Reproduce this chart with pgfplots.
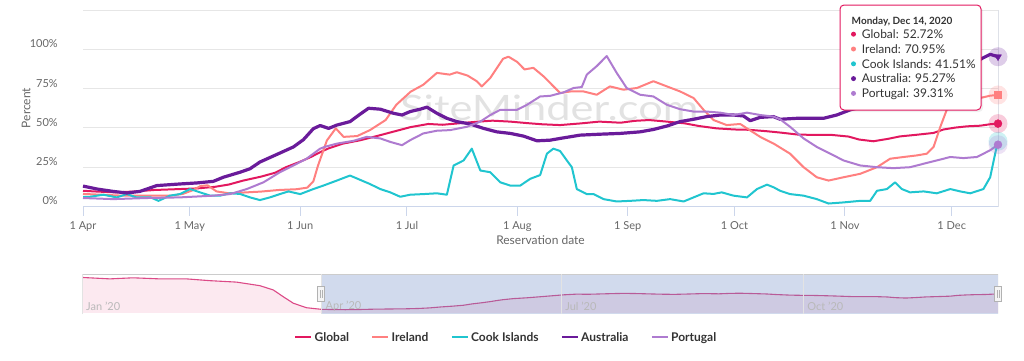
\documentclass[border=0pt]{standalone}
\usepackage{fontspec}
\setmainfont{Lato}
\usepackage{pgfplots}
\pgfplotsset{compat=1.18}
\usepackage{pgfplotstable}
\definecolor{globalc}{HTML}{E2185F}
\definecolor{irelandc}{HTML}{FF8080}
\definecolor{cookc}{HTML}{20C5CF}
\definecolor{ausc}{HTML}{6A1B9A}
\definecolor{portc}{HTML}{AE7BD0}
\definecolor{gridc}{HTML}{E6E6E6}
\definecolor{axisc}{HTML}{CCD6EB}
\definecolor{labc}{HTML}{666666}
\definecolor{txtc}{HTML}{333333}
\definecolor{wmc}{HTML}{E2E2E2}
\definecolor{navpink}{HTML}{FCE9F0}
\definecolor{navsel}{RGB}{102,133,194}
\definecolor{navline}{HTML}{DC4A87}

\pgfplotstableread{
d v
0 10
4 9.5
9 9
14 9.5
20 10.5
26 11
32 11.5
37 12.5
41 14
45 16.5
50 19
54 21.5
57 25
61 28.5
64 31.5
67 35
69 37
73 40
78 42.2
82.5 44.8
87 47.5
92 50.5
97 52.5
101 52
106 53
111 54
115 54.6
120 54
125 53
129 52.3
134 51.8
140 52.9
145 54
151 53.3
155 54.5
159 55
164 54
169 52.9
173 51.2
178 49.7
183 49
187 48.8
192 47.9
196 47
201 45.7
205 45.6
210 45.6
215 44.5
218 42.6
222 41.5
226 43
229.5 44.6
234 45.6
238.9 46.8
241.7 49
245 50.2
248.3 51
252 51.4
255 52.4
257 52.72
}\globaltab

\pgfplotstableread{
d v
0 8
5 7.5
10 7
15 7
20 7
25 7
28 8
31 10.5
33 13
35 13.5
37.5 9.6
41 8.4
46 9
50 9.5
55 10.5
60 11
63 12
64.7 16
66 26
68.5 42
71 49.7
73.2 44.3
77 44.8
80.6 48.6
85 55
88 64.7
92 73
95.6 77.5
99.4 85
103 83.9
105 85.4
108 83.3
110.6 79.7
112 76.4
114.4 81.8
118 94
119.5 95.3
122 91.9
124 87.2
126.5 88.2
129.3 82.9
131.2 78.6
134 72.2
137 73.2
140.6 73.2
144.3 71.1
148 76.4
151.8 74.3
155.6 75.4
160.2 79.7
164 76.4
167.7 73.2
171.5 69
174.3 61.5
177.1 55
180.8 51.8
184.6 52.5
186.5 49.7
190.2 44.3
194 40
198.6 33.6
202.4 25
206.1 18.6
209.4 16.5
213.6 18.6
218.3 20.8
223 25
226.7 30.4
230.5 31.5
234.2 32.5
237 33.6
238.9 37.9
240.8 50.7
242.6 61.5
245 65
248 67
251 68.5
254.8 70.5
257 70.95
}\irelandtab

\pgfplotstableread{
d v
0 6.2
2 6.2
5.7 7.5
9.5 5.8
12.3 7.9
15 5.8
19 5.8
21.2 3.6
24.4 6.9
27.2 7.9
30.1 11.1
32.9 9
35.7 6.9
38.5 6.9
41.3 8.4
44.1 8
46.9 5.8
49.7 4.1
52.5 5.8
55.3 7.9
57.7 9.6
61 7.9
64.7 11.1
67.5 13.3
71.3 16.5
75 19.7
77.9 16.9
80.6 14.3
83.5 11.1
86.3 9
89.1 6.2
91.9 7.5
95.6 7.9
99.4 8.4
102.2 7.5
104.1 26.1
106.9 29.3
109.2 36.8
111.6 22.9
114.4 21.8
117.2 15.4
120 13.3
122.8 13.3
125.6 17.6
128.4 20
130.3 33.6
132.1 36.8
134 35.3
135.9 29.3
137.3 25
138.7 11.1
141.5 7.9
143.4 7.9
146.2 4.7
149.9 3.2
153.7 3.6
157.4 4.1
161.2 3.6
164.9 4.7
168.7 3.2
171.5 5.8
174.3 8.4
177.1 8
179.4 9
182.7 6.9
186.5 5.8
189.3 11.1
192.1 13.9
194 12.2
195.8 10
198.6 7.9
202.4 6.9
206.1 4.7
209.4 1.9
213.6 2.6
218.3 3.6
221.1 3.6
223 10
225.8 11.1
228.1 15.4
230 11.1
232.3 9
236.1 9.6
239.8 8.4
243.6 11.1
246.4 9.6
249.2 8.4
252.9 11.1
254.8 18.6
256.2 33.6
257 41.51
}\cooktab

\pgfplotstableread{
d v
0 13
4 11.1
8.5 9.6
12.3 8.6
16 9.6
20.7 13.3
27 14.3
32 15
36.6 16
39.4 18.6
44.1 21.8
46.9 24
49.7 28.3
55.3 34
59.1 37.9
61.9 42.5
64.7 49.5
66.6 51.5
69 49.7
71.3 51.8
75 54
77.5 58.2
80.2 62.5
83.5 61.9
87.2 59.3
89.6 58.2
91.9 60.4
94.7 61.9
96.6 63.2
99.4 59.3
102.2 56.1
105 54
108.7 52.5
112.5 49.7
116.2 47.5
120 46.5
123.7 44.8
127.5 41.8
131.2 42.2
134 43.3
139.6 45.4
145.3 46
150.9 46.5
156.5 47.5
160.2 49
164 51.2
167.7 54
171.5 55.5
175.2 57.2
179 58.2
182.7 58.2
185.5 57.6
187.4 54.6
190.2 56.7
193.9 57.2
195.8 55.5
200.5 56.1
204.2 56.1
208 56.1
211.7 58.2
215.5 61.5
217.3 62.5
222 64
230 70
238 77
245 86
250 91.5
252 93.6
254.8 96.8
257 95.27
}\austab

\pgfplotstableread{
d v
0 5.4
8.5 4.7
18 5.4
27.2 5.8
36.6 6.9
41.3 7.9
46 11.1
50.7 15.4
55.3 21.8
59.1 26.1
62.8 30.4
66.6 36.8
68 38
71.3 40
76 41.8
79.7 44.3
83.5 43.3
86.3 41.1
89.6 39
91.9 42.2
95.6 46.5
99.4 48.2
103.1 48.6
107.8 50.7
111.6 54
114.4 58.2
117.2 61.5
121.9 61.5
124.7 64.7
128.4 70
131.2 70.4
135 72.6
137.8 75.4
140.1 76
141.5 83.9
144.3 89.3
147.1 95.7
149.9 85
152.7 75.4
156.5 71.1
160.2 70
164 64.7
167.7 61.9
171.5 60.4
175.2 60.4
179 59.7
182.7 58.2
186.5 59.7
190.2 58.2
193.9 57.2
195.8 55.5
198.6 50.7
202.4 43.3
206.1 37.9
209.9 33.6
213.6 29.3
218.3 26.1
223 25
227.6 24.4
232.3 25
236.1 27.2
239.8 29.3
243.6 31.5
247.3 30.8
251.1 31.5
254.8 35.8
257 39.31
}\porttab

\pgfplotstableread{
d v
-91 99
-80.4 95
-71.6 98
-61.5 95
-51.3 95
-42.4 90
-32.3 86
-23.4 76
-18.3 64
-14.5 45
-10.7 27
-5.7 14.5
0 10
}\navjan

\begin{document}
\begin{tikzpicture}[x=1pt,y=1pt]
\useasboundingbox (0,0) rectangle (1024,360);
% watermark
\node[anchor=base west, text=wmc, inner sep=0pt] at (400,240) {\scalebox{1.24}[1]{\fontsize{35}{35}\selectfont SiteMinder.com}};

\begin{axis}[
  at={(83pt,153.5pt)}, anchor=south west,
  scale only axis, width=915pt, height=196.5pt,
  xmin=0, xmax=257, ymin=0, ymax=125,
  clip=false,
  axis line style={draw=none},
  xtick={0,30,61,91,122,153,183,214,244},
  xticklabels={1 Apr,1 May,1 Jun,1 Jul,1 Aug,1 Sep,1 Oct,1 Nov,1 Dec},
  ytick={0,25,50,75,100,125},
  yticklabels={0\%,25\%,50\%,75\%,100\%,{}},
  xtick pos=bottom, ytick pos=left,
  tick align=outside, major tick length=9pt,
  xtick style={draw=axisc, line width=1pt},
  ytick style={draw=none},
  ymajorgrids, grid style={draw=gridc, line width=1pt},
  /pgf/number format/assume math mode=true,
  xticklabel style={anchor=north, inner sep=0pt, yshift=-6pt, text=labc, font=\fontsize{11}{13}\selectfont},
  yticklabel style={anchor=east, inner sep=0pt, xshift=-16pt, yshift=5.5pt, text=labc, font=\fontsize{11}{13}\selectfont},
  legend columns=5,
  legend style={at={(0.4628,-0.6656)}, anchor=center, draw=none, fill=none,
    font=\bfseries\fontsize{12}{14}\selectfont, text=txtc,
    /tikz/every even column/.append style={column sep=20pt},
    nodes={inner sep=2.3pt}},
  legend image code/.code={\draw[line width=2pt] (0pt,0pt) -- (16pt,0pt);},
]
\draw[axisc, line width=1pt] (rel axis cs:0,0) -- (rel axis cs:1,0);
\draw[gridc!70!axisc, line width=1pt] (rel axis cs:1,0) -- (rel axis cs:1,1);
\addplot[globalc, line width=2pt, line join=round, no marks] table[x=d,y=v]{\globaltab};
\addlegendentry{Global}
\addplot[irelandc, line width=2pt, line join=round, no marks] table[x=d,y=v]{\irelandtab};
\addlegendentry{Ireland}
\addplot[cookc, line width=2pt, line join=round, no marks] table[x=d,y=v]{\cooktab};
\addlegendentry{Cook Islands}
\addplot[ausc, line width=3.2pt, line join=round, no marks] table[x=d,y=v]{\austab};
\addlegendentry{Australia}
\addplot[portc, line width=2pt, line join=round, no marks] table[x=d,y=v]{\porttab};
\addlegendentry{Portugal}
% halos
\addplot[forget plot, only marks, mark=*, mark size=9.5pt, color=ausc, fill opacity=0.22, draw opacity=0] coordinates {(257,95.27)};
\addplot[forget plot, only marks, mark=*, mark size=9.5pt, color=irelandc, fill opacity=0.22, draw opacity=0] coordinates {(257,70.95)};
\addplot[forget plot, only marks, mark=*, mark size=9.5pt, color=globalc, fill opacity=0.22, draw opacity=0] coordinates {(257,52.72)};
\addplot[forget plot, only marks, mark=*, mark size=9.5pt, color=cookc, fill opacity=0.22, draw opacity=0] coordinates {(257,41.51)};
\addplot[forget plot, only marks, mark=*, mark size=9.5pt, color=portc, fill opacity=0.22, draw opacity=0] coordinates {(257,39.31)};
% markers
\addplot[forget plot, only marks, mark=triangle*, mark size=4pt, color=ausc, mark options={rotate=180}] coordinates {(257,95.27)};
\addplot[forget plot, only marks, mark=square*, mark size=3.5pt, color=irelandc] coordinates {(257,70.95)};
\addplot[forget plot, only marks, mark=*, mark size=4pt, color=globalc] coordinates {(257,52.72)};
\addplot[forget plot, only marks, mark=*, mark size=4pt, color=portc] coordinates {(257,39.31)};
\end{axis}

% axis titles
\node[rotate=90, text=labc, font=\fontsize{12}{14}\selectfont] at (26,252) {Percent};
\node[text=labc, font=\fontsize{12}{14}\selectfont] at (540.5,120) {Reservation date};

% tooltip
\fill[black, opacity=0.06, rounded corners=4pt] (842,248) rectangle (983,353);
\draw[globalc, fill=white, line width=1pt, rounded corners=4pt] (840,250) rectangle (981,355);
\node[anchor=base west, inner sep=0pt, text=txtc, font=\bfseries\fontsize{10}{12}\selectfont] at (851.5,335.7) {Monday, Dec 14, 2020};
\fill[globalc] (853.5,325.8) circle (2.5);
\fill[irelandc] (853.5,311) circle (2.5);
\fill[cookc] (853.5,296.2) circle (2.5);
\fill[ausc] (853.5,281.4) circle (2.5);
\fill[portc] (853.5,266.6) circle (2.5);
\begin{scope}[every node/.style={anchor=base west, inner sep=0pt, text=txtc, font=\fontsize{12}{14}\selectfont}]
\node at (861.7,321.5) {Global: 52.72\%};
\node at (861.7,306.7) {Ireland: 70.95\%};
\node at (861.7,291.9) {Cook Islands: 41.51\%};
\node at (861.7,277.1) {Australia: 95.27\%};
\node at (861.7,262.3) {Portugal: 39.31\%};
\end{scope}

% navigator
\begin{axis}[
  at={(82pt,46pt)}, anchor=south west,
  scale only axis, width=916pt, height=40pt,
  xmin=-91, xmax=257, ymin=-3, ymax=108.6,
  axis on top,
  axis line style={draw=none},
  ytick=\empty,
  xtick={-91,0,91,183},
  xticklabels={Jan '20,Apr '20,Jul '20,Oct '20},
  xtick style={draw=none},
  xmajorgrids, grid style={draw=gray!22, line width=0.8pt},
  xticklabel style={anchor=west, inner sep=0pt, xshift=4pt, yshift=8pt, text=gray!55, font=\fontsize{11}{13}\selectfont},
]
\addplot[fill=navpink, draw=none] table[x=d,y=v]{\navjan} \closedcycle;
\addplot[fill=navpink, draw=none] table[x=d,y=v]{\globaltab} \closedcycle;
\addplot[navline, line width=1.1pt, no marks] table[x=d,y=v]{\navjan};
\addplot[navline, line width=1.1pt, no marks] table[x=d,y=v]{\globaltab};
\fill[navsel, fill opacity=0.3] (axis cs:0,-3) rectangle (axis cs:257,108.6);
\draw[gray!40, line width=1pt] (rel axis cs:0,0) -- (rel axis cs:0,1) -- (rel axis cs:1,1) -- (rel axis cs:1,0);
\end{axis}

% navigator handles
\foreach \hx in {321,998} {
  \draw[fill=gray!8, draw=gray!60, line width=0.7pt] (\hx-3.5,59) rectangle (\hx+3.5,73.5);
  \draw[gray!60, line width=0.6pt] (\hx-1,62.5) -- (\hx-1,70) (\hx+1,62.5) -- (\hx+1,70);
}
\end{tikzpicture}
\end{document}
